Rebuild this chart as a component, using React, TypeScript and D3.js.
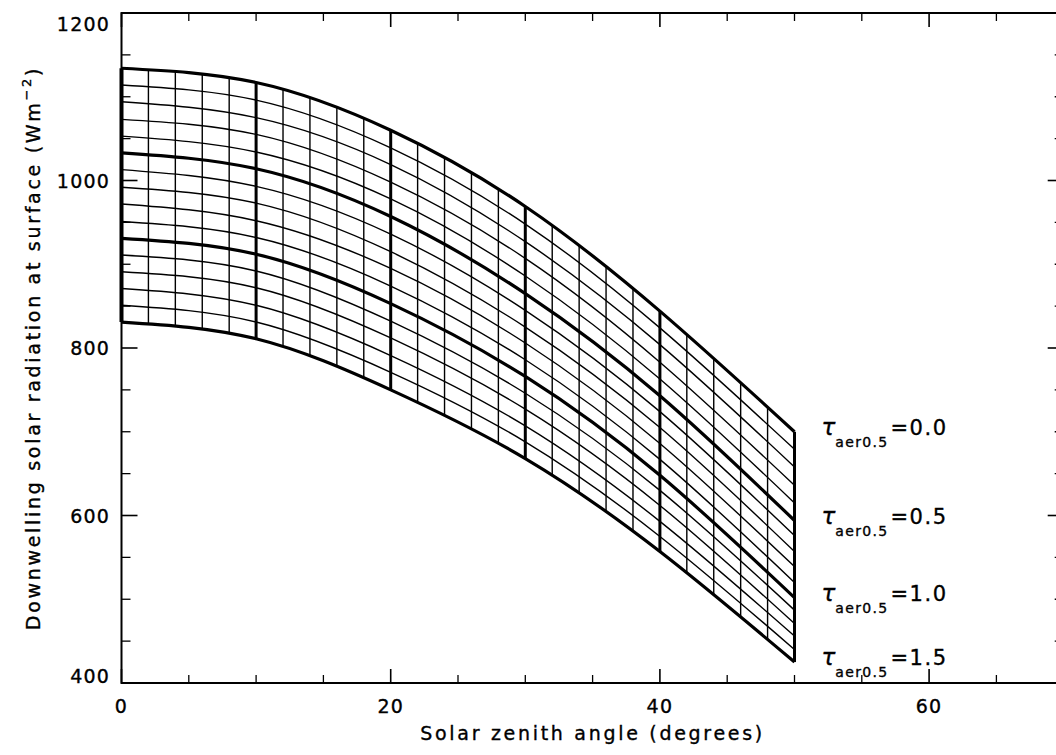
import React from 'react';
import * as d3 from 'd3';

// Solar zenith angles (degrees) at which the surface flux was tabulated
const zenithAngles = [0, 10, 20, 30, 40, 50];

// Aerosol optical depth at 0.5 µm, one curve per value
const tauValues = [0, 0.1, 0.2, 0.3, 0.4, 0.5, 0.6, 0.7, 0.8, 0.9, 1.0, 1.1, 1.2, 1.3, 1.4, 1.5];

// Downwelling solar flux (W m-2) for each tau, one array per zenith angle
const fluxAtSza0 = [1134, 1114, 1094, 1073, 1053, 1033, 1013, 992, 972, 951, 931, 911, 891, 871, 851, 831];
const fluxAtSza10 = [1117, 1096, 1075, 1055, 1034, 1014, 993, 973, 952, 932, 912, 892, 872, 851, 831, 811];
const fluxAtSza20 = [1060, 1039, 1019, 998, 978, 957, 936, 915, 895, 874, 853, 832, 812, 791, 771, 750];
const fluxAtSza30 = [969, 948, 927, 907, 886, 865, 845, 825, 806, 786, 766, 746, 727, 707, 688, 668];
const fluxAtSza40 = [844, 824, 804, 783, 763, 743, 724, 705, 686, 667, 648, 630, 612, 593, 575, 557];
const fluxAtSza50 = [700, 679, 658, 636, 615, 594, 576, 557, 539, 520, 502, 487, 471, 456, 440, 425];

const fluxColumns = [fluxAtSza0, fluxAtSza10, fluxAtSza20, fluxAtSza30, fluxAtSza40, fluxAtSza50];

// Grid of constant zenith angle drawn every 2 degrees
const gridAngles = [0, 2, 4, 6, 8, 10, 12, 14, 16, 18, 20, 22, 24, 26, 28, 30, 32, 34, 36, 38, 40, 42, 44, 46, 48, 50];

// Axis ticks
const xMajorTicks = [0, 20, 40, 60];
const xMinorTicks = [5, 10, 15, 25, 30, 35, 45, 50, 55, 65];
const yMajorTicks = [400, 600, 800, 1000, 1200];
const yMinorTicks = [450, 500, 550, 650, 700, 750, 850, 900, 950, 1050, 1100, 1150];

// Curves labelled at their right-hand end
const labelledTaus = [0, 0.5, 1.0, 1.5];
const labelTexts = ['0.0', '0.5', '1.0', '1.5'];

const W = 1056;
const H = 755;
const FONT = '"DejaVu Sans", "Noto Sans", sans-serif';

export default function App() {
  const x = d3.scaleLinear().domain([0, 70]).range([121.5, 1063.7]);
  const y = d3.scaleLinear().domain([400, 1200]).range([683, 13]);

  const x0 = x(0);
  const x1 = x(70);
  const yTop = y(1200);
  const yBot = y(400);

  const line = d3
    .line<[number, number]>()
    .x((d) => x(d[0]))
    .y((d) => y(d[1]))
    .curve(d3.curveNatural);

  const curvePoints = (ti: number): [number, number][] =>
    zenithAngles.map((a, j) => [a, fluxColumns[j][ti]] as [number, number]);

  const last = tauValues.length - 1;
  const band = d3
    .area<number>()
    .x((_, j) => x(zenithAngles[j]))
    .y0((_, j) => y(fluxColumns[j][last]))
    .y1((_, j) => y(fluxColumns[j][0]))
    .curve(d3.curveNatural);
  const bandPath = band(zenithAngles) || '';

  const isBoldTau = (ti: number) => ti % 5 === 0;

  const majorLen = 14;
  const minorLen = 8;
  const textInk = { stroke: '#000', strokeWidth: 0.35 };

  return (
    <svg
      width={W}
      height={H}
      style={{ position: 'absolute', left: 0, top: 0, background: '#fff' }}
      fontFamily={FONT}
    >
      <defs>
        <clipPath id="fluxBand">
          <path d={bandPath} />
        </clipPath>
      </defs>
      <rect x={0} y={0} width={W} height={H} fill="#fff" />

      {/* thin constant-angle lines, clipped to the band between tau=0 and tau=1.5 */}
      <g clipPath="url(#fluxBand)">
        {gridAngles
          .filter((a) => a % 10 !== 0)
          .map((a) => (
            <line key={a} x1={x(a)} x2={x(a)} y1={yTop} y2={yBot} stroke="#000" strokeWidth={1.4} />
          ))}
      </g>

      {/* bold constant-angle lines every 10 degrees */}
      {zenithAngles.map((a, j) => (
        <line
          key={'v' + a}
          x1={x(a)}
          x2={x(a)}
          y1={y(fluxColumns[j][0])}
          y2={y(fluxColumns[j][last])}
          stroke="#000"
          strokeWidth={a === 0 ? 4 : 3}
        />
      ))}

      {/* constant-tau curves */}
      {tauValues.map((t, ti) => (
        <path
          key={'c' + ti}
          d={line(curvePoints(ti)) || ''}
          fill="none"
          stroke="#000"
          strokeWidth={isBoldTau(ti) ? 3.2 : 1.4}
        />
      ))}

      {/* frame */}
      <rect x={x0} y={yTop} width={x1 - x0} height={yBot - yTop} fill="none" stroke="#000" strokeWidth={2} />

      {/* x ticks, bottom and top, pointing inward */}
      {xMajorTicks.map((v) => (
        <g key={'xM' + v}>
          <line x1={x(v)} x2={x(v)} y1={yBot} y2={yBot - majorLen} stroke="#000" strokeWidth={1.6} />
          <line x1={x(v)} x2={x(v)} y1={yTop} y2={yTop + majorLen} stroke="#000" strokeWidth={1.6} />
        </g>
      ))}
      {xMinorTicks.map((v) => (
        <g key={'xm' + v}>
          <line x1={x(v)} x2={x(v)} y1={yBot} y2={yBot - minorLen} stroke="#000" strokeWidth={1.3} />
          <line x1={x(v)} x2={x(v)} y1={yTop} y2={yTop + minorLen} stroke="#000" strokeWidth={1.3} />
        </g>
      ))}

      {/* y ticks, left and right, pointing inward */}
      {yMajorTicks.map((v) => (
        <g key={'yM' + v}>
          <line x1={x0} x2={x0 + majorLen + 2} y1={y(v)} y2={y(v)} stroke="#000" strokeWidth={1.6} />
          <line x1={x1} x2={x1 - majorLen - 2} y1={y(v)} y2={y(v)} stroke="#000" strokeWidth={1.6} />
        </g>
      ))}
      {yMinorTicks.map((v) => (
        <g key={'ym' + v}>
          <line x1={x0} x2={x0 + minorLen + 1} y1={y(v)} y2={y(v)} stroke="#000" strokeWidth={1.3} />
          <line x1={x1} x2={x1 - minorLen - 1} y1={y(v)} y2={y(v)} stroke="#000" strokeWidth={1.3} />
        </g>
      ))}

      {/* tick labels */}
      {xMajorTicks.map((v) => (
        <text key={'xl' + v} x={x(v)} y={713} fontSize={19} textAnchor="middle" letterSpacing={1.2} {...textInk}>
          {v}
        </text>
      ))}
      {yMajorTicks.map((v, i) => {
        const shift = i === 0 ? -7 : i === yMajorTicks.length - 1 ? 11 : 0;
        return (
          <text
            key={'yl' + v}
            x={110}
            y={y(v) + 7 + shift}
            fontSize={19}
            textAnchor="end"
            letterSpacing={1.2}
            {...textInk}
          >
            {v}
          </text>
        );
      })}

      {/* axis titles */}
      <text x={(x0 + x1) / 2} y={740} fontSize={19} textAnchor="middle" letterSpacing={2.7} {...textInk}>
        Solar zenith angle (degrees)
      </text>
      <text
        transform={`translate(40, ${(yTop + yBot) / 2}) rotate(-90)`}
        fontSize={19}
        textAnchor="middle"
        letterSpacing={2.7}
        {...textInk}
      >
        Downwelling solar radiation at surface (Wm
        <tspan fontSize={13} dy={-9}>
          −2
        </tspan>
        <tspan dy={9}>)</tspan>
      </text>

      {/* tau labels at the curve ends */}
      {labelledTaus.map((t, k) => {
        const ti = tauValues.indexOf(t);
        const yEnd = y(fluxAtSza50[ti]) + 3;
        return (
          <text key={'tl' + t} x={x(50) + 27} y={yEnd} {...textInk}>
            <tspan fontSize={23} fontStyle="italic">
              τ
            </tspan>
            <tspan fontSize={14} dx={0} dy={12} letterSpacing={1.3}>
              aer0.5
            </tspan>
            <tspan fontSize={21} dy={-12} dx={2} letterSpacing={1.6}>
              ={labelTexts[k]}
            </tspan>
          </text>
        );
      })}
    </svg>
  );
}
